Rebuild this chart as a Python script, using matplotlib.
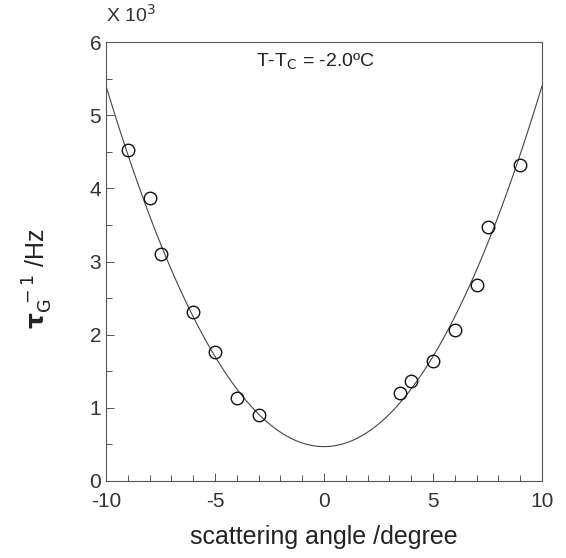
import numpy as np
import matplotlib
matplotlib.use("Agg")
import matplotlib.pyplot as plt
from matplotlib.ticker import MultipleLocator

# measured relaxation rates (x 10^3 Hz) vs scattering angle
angle = [-9, -8, -7.5, -6, -5, -4, -3, 3.5, 4, 5, 6, 7, 7.5, 9]
rate = [4.52, 3.87, 3.10, 2.31, 1.76, 1.14, 0.90,
        1.20, 1.37, 1.64, 2.07, 2.68, 3.47, 4.32]

# fitted parabola: rate = fit_a + fit_b * angle^2
fit_a = 0.47
fit_b = 0.0493

plt.rcParams['font.family'] = ['Liberation Sans', 'DejaVu Sans']
plt.rcParams['axes.unicode_minus'] = False

fig = plt.figure(figsize=(5.66, 5.58), dpi=100)
ax = fig.add_axes([106/566, 77/558, 436/566, 439/558])

xs = np.linspace(-10, 10, 401)
ax.plot(xs, fit_a + fit_b * xs**2, color='#444444', lw=0.8)
ax.plot(angle, rate, 'o', mfc='none', mec='#111111', ms=9, mew=1.0)

ax.set_xlim(-10, 10)
ax.set_ylim(0, 6)
ax.xaxis.set_major_locator(MultipleLocator(5))
ax.xaxis.set_minor_locator(MultipleLocator(1))
ax.yaxis.set_major_locator(MultipleLocator(1))
ax.yaxis.set_minor_locator(MultipleLocator(0.5))
ax.tick_params(which='both', direction='in', top=False, right=False,
               colors='#555555', labelcolor='#333333', labelsize=15, width=0.7)
ax.tick_params(which='major', length=6)
ax.tick_params(which='minor', length=4)
ax.tick_params(axis='x', pad=8)
for s in ax.spines.values():
    s.set_color('#555555')
    s.set_linewidth(0.8)

ax.set_xlabel('scattering angle /degree', fontsize=18, color='#222222', labelpad=10)
fig.text(38/566, 0.5, r'$\mathbf{\tau}_{\mathrm{G}}^{\ -1}$ /Hz', rotation=90,
         ha='center', va='center', fontsize=18, color='#222222')
ax.text(-10, 6.22, r'X 10$^3$', fontsize=14, color='#333333', va='bottom')
ax.text(-3.1, 5.73, r'T-T$_\mathrm{C}$ = -2.0ºC', fontsize=14, color='#222222',
        va='center')

fig.savefig('out.png', dpi=100)
